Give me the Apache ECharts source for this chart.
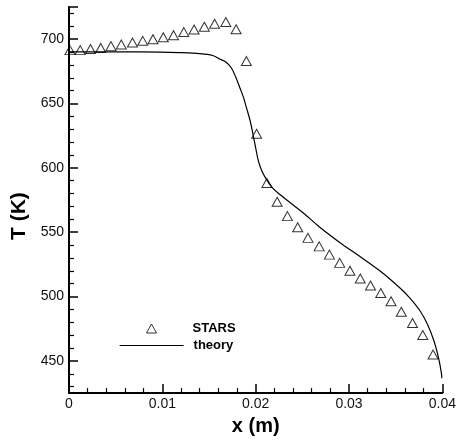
<!DOCTYPE html>
<html><head><meta charset="utf-8">
<script src="https://cdn.jsdelivr.net/npm/echarts@6/dist/echarts.min.js"></script>
<style>html,body{margin:0;padding:0;background:#fff}#c{width:459px;height:441px}</style>
</head><body><div id="c"></div>
<script>
const starsX = [0.0001,0.0012,0.0023,0.0034,0.0045,0.0056,0.0068,0.0079,0.0090,0.0101,0.0112,0.0123,
  0.0134,0.0145,0.0156,0.0168,0.0179,0.0190,0.0201,0.0212,0.0223,0.0234,0.0245,0.0256,
  0.0268,0.0279,0.0290,0.0301,0.0312,0.0323,0.0334,0.0345,0.0356,0.0368,0.0379,0.0390];
const starsT = [691.5,691.5,692.3,693.2,694.6,695.9,697.4,698.7,700.0,701.5,703.1,705.5,
  707.5,709.7,712.0,713.3,707.7,683.0,626.5,588.2,573.7,562.5,553.8,545.6,
  539.0,532.6,526.2,520.1,514.0,508.6,502.8,496.4,488.2,479.5,470.1,455.0];
const theoryX = [0.0000,0.0054,0.0097,0.0118,0.0140,0.0154,0.0161,0.0168,0.0174,0.0179,0.0183,0.0187,
  0.0190,0.0194,0.0197,0.0200,0.0203,0.0207,0.0212,0.0218,0.0226,0.0236,0.0251,0.0268,
  0.0290,0.0311,0.0333,0.0354,0.0365,0.0376,0.0384,0.0391,0.0396,0.0399,0.03994];
const theoryT = [690.2,690.2,690.0,689.6,688.8,687.3,684.7,682.2,677.6,669.9,662.3,654.6,
  647.0,636.8,626.5,615.5,605.0,597.0,590.5,584.4,579.3,573.5,565.0,554.3,
  542.1,531.5,520.0,507.0,499.0,489.0,478.5,465.5,452.0,440.4,436.6];
const yTickLabels = [450,500,550,600,650,700];
const seriesNames = ['STARS','theory'];

const FONT = '"Liberation Sans", Arial, Helvetica, sans-serif';
const chart = echarts.init(document.getElementById('c'), null, {renderer:'canvas'});
const axisCommon = {
  axisLine:{show:true,onZero:false,lineStyle:{color:'#000',width:2}},
  axisTick:{show:true,inside:true,length:9,lineStyle:{color:'#000',width:1.5}},
  minorTick:{show:true,splitNumber:5,length:5,lineStyle:{color:'#000',width:1.2}},
  splitLine:{show:false},
  axisLabel:{color:'#111',fontSize:14,fontFamily:FONT},
  nameTextStyle:{color:'#000',fontSize:20,fontWeight:'bold',fontFamily:FONT}
};
chart.setOption({
  animation:false,
  backgroundColor:'#fff',
  grid:{left:69,right:16,top:7,bottom:41,containLabel:false},
  xAxis:Object.assign({}, axisCommon, {
    type:'value',min:0,max:0.04,interval:0.01,
    name:'x (m)',nameLocation:'middle',nameGap:18,
    axisLabel:Object.assign({}, axisCommon.axisLabel, {margin:4})
  }),
  yAxis:Object.assign({}, axisCommon, {
    type:'value',min:425,max:725,splitNumber:6,
    name:'T (K)',nameLocation:'middle',nameGap:26,nameRotate:90,
    nameTextStyle:Object.assign({}, axisCommon.nameTextStyle, {fontSize:21,padding:[0,32,0,0]}),
    axisLabel:Object.assign({}, axisCommon.axisLabel, {margin:5,showMinLabel:false,showMaxLabel:false,
      formatter:function(v){return yTickLabels.indexOf(Math.round(v))>=0?String(Math.round(v)):'';}})
  }),
  legend:[
    {data:[seriesNames[0]],orient:'vertical',left:141,top:317,itemWidth:10,itemHeight:9,
     itemStyle:{color:'rgba(255,255,255,0)',borderColor:'#000',borderWidth:1},
     textStyle:{color:'#000',fontSize:13,fontWeight:'bold',fontFamily:FONT,padding:[0,0,0,31]}},
    {data:[seriesNames[1]],orient:'vertical',left:114,top:334,itemWidth:64,itemHeight:8,
     itemStyle:{color:'rgba(0,0,0,0)',borderColor:'rgba(0,0,0,0)',borderWidth:0},
     lineStyle:{color:'#000',width:1.2},
     textStyle:{color:'#000',fontSize:13,fontWeight:'bold',fontFamily:FONT,padding:[0,0,0,5]}}
  ],
  series:[
    {name:seriesNames[0],type:'scatter',symbol:'triangle',symbolSize:[10,9],
     itemStyle:{color:'rgba(255,255,255,0)',borderColor:'#000',borderWidth:1},
     data:starsX.map((x,i)=>[x,starsT[i]]),z:3},
    {name:seriesNames[1],type:'line',symbol:'none',smooth:0.35,
     lineStyle:{color:'#000',width:1.2},itemStyle:{color:'#000'},
     data:theoryX.map((x,i)=>[x,theoryT[i]]),z:2}
  ]
});
</script></body></html>
